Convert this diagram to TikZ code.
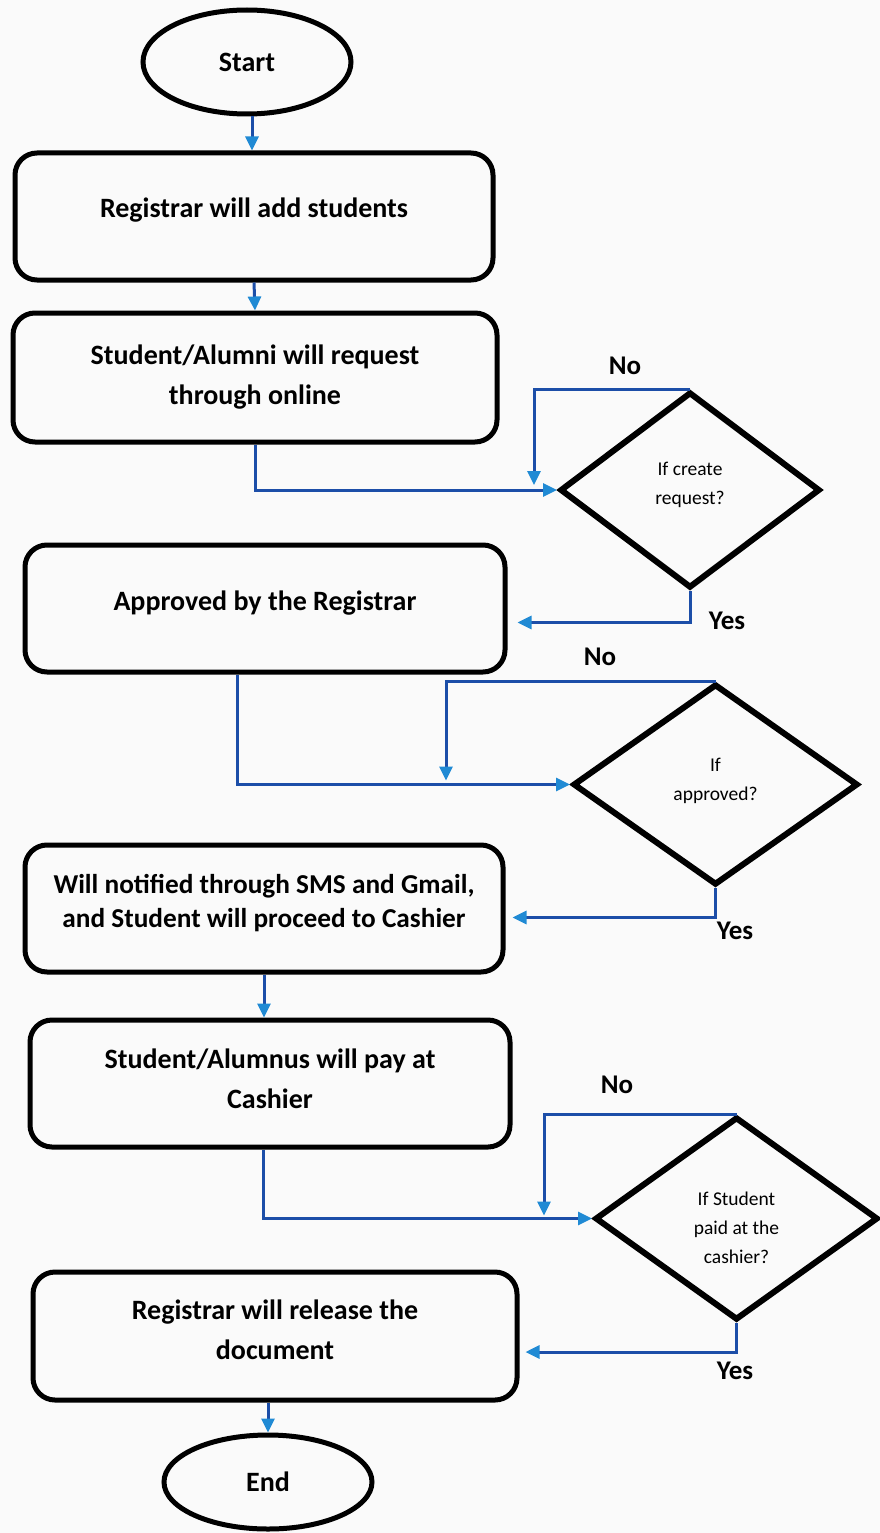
\documentclass[tikz,border=0pt]{standalone}
\usepackage{fontspec}
\setmainfont{Carlito}
\usetikzlibrary{shapes.geometric,arrows.meta,calc}
\definecolor{linkblue}{RGB}{28,78,168}
\definecolor{tipblue}{RGB}{32,138,212}
\definecolor{paper}{RGB}{250,250,250}
\tikzset{
  procbox/.style={draw=black, line width=5pt, rounded corners=22pt, inner sep=0pt,
    align=center, font=\fontsize{28}{40}\selectfont\bfseries},
  termnode/.style={draw=black, line width=5pt, ellipse, inner sep=0pt,
    font=\fontsize{28}{40}\selectfont\bfseries},
  decision/.style={draw=black, line width=6pt, diamond, inner sep=0pt, align=center,
    font=\fontsize{19.5}{29}\selectfont},
  conn/.style={draw=linkblue, line width=3pt,
    -{Triangle[length=14pt,width=13pt,color=tipblue]}},
  ansnode/.style={font=\fontsize{27}{32}\selectfont\bfseries, inner sep=0pt}
}
\begin{document}
\begin{tikzpicture}[x=1pt,y=-1pt]
\path[use as bounding box, fill=paper] (0,0) rectangle (880,1533);

\node[termnode, minimum width=208pt, minimum height=104pt] (s) at (247,62) {Start};
\node[procbox, minimum width=478pt, minimum height=127pt] (b1) at (254,216.5) {Registrar will add students\\[-22pt]};
\node[procbox, minimum width=484pt, minimum height=129pt] (b2) at (255,377.5) {Student/Alumni will request\\through online};
\node[decision, minimum width=260pt, minimum height=196pt] (d1) at (690,490) {If create\\request?\\[-15pt]};
\node[procbox, minimum width=480pt, minimum height=127pt] (b3) at (265,608.5) {Approved by the Registrar\\[-25pt]};
\node[decision, minimum width=285pt, minimum height=201pt] (d2) at (715.5,784.5) {If\\approved?\\[-18pt]};
\node[procbox, minimum width=478pt, minimum height=127pt, font=\fontsize{27.3}{34}\selectfont\bfseries] (b4) at (264,908.5) {Will notified through SMS and Gmail,\\and Student will proceed to Cashier\\[-19pt]};
\node[procbox, minimum width=480pt, minimum height=127pt] (b5) at (270,1083.5) {Student/Alumnus will pay at\\Cashier\\[-30pt]};
\node[decision, minimum width=283pt, minimum height=203pt] (d3) at (736.5,1218.5) {\mbox{}\\[3pt]If Student\\paid at the\\cashier?};
\node[procbox, minimum width=484pt, minimum height=128pt] (b6) at (275,1336) {Registrar will release the\\document\\[-28pt]};
\node[termnode, minimum width=208pt, minimum height=94pt] (e) at (268,1482) {End};

\node[ansnode] (no1) at (625,366) {No};
\node[ansnode] (yes1) at (727,621) {Yes};
\node[ansnode] (no2) at (600,657) {No};
\node[ansnode] (yes2) at (735,931) {Yes};
\node[ansnode] (no3) at (617,1085) {No};
\node[ansnode] (yes3) at (735,1371) {Yes};

\draw[conn] ([xshift=5pt]s.south) -- ([xshift=5pt]s.south |- b1.north);
\draw[conn] (b1.south) -- (b2.north);
\draw[conn] (b2.south) |- (d1.west);
\draw[conn] (d1.north) -| ([xshift=-23pt,yshift=5pt]d1.west);
\draw[conn] (d1.south) |- ([xshift=10pt,yshift=-14pt]b3.east);
\draw[conn] ([xshift=-28pt]b3.south) |- (d2.west);
\draw[conn] (d2.north) -| ([xshift=-124pt,yshift=4pt]d2.west);
\draw[conn] (d2.south) |- ([xshift=7pt,yshift=-9pt]b4.east);
\draw[conn] (b4.south) -- (b4.south |- b5.north);
\draw[conn] ([xshift=-7pt]b5.south) |- (d3.west);
\draw[conn] (d3.north) -| ([xshift=-48pt,yshift=3pt]d3.west);
\draw[conn] (d3.south) |- ([xshift=6pt,yshift=-16pt]b6.east);
\draw[conn] (b6.south -| e.north) -- (e.north);
\end{tikzpicture}
\end{document}
